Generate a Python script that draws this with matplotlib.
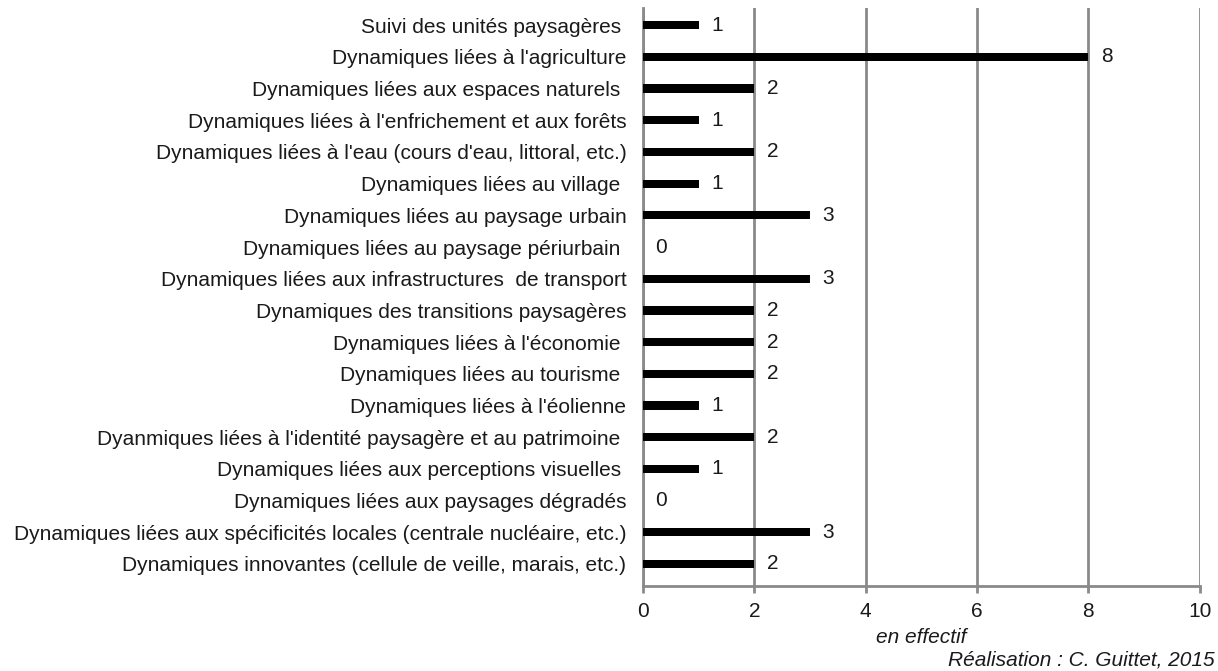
import matplotlib

matplotlib.use("Agg")
import matplotlib.pyplot as plt

plt.rcParams["font.family"] = ["Liberation Sans", "DejaVu Sans"]

categories = [
    "Suivi des unités paysagères ",
    "Dynamiques liées à l'agriculture",
    "Dynamiques liées aux espaces naturels ",
    "Dynamiques liées à l'enfrichement et aux forêts",
    "Dynamiques liées à l'eau (cours d'eau, littoral, etc.)",
    "Dynamiques liées au village ",
    "Dynamiques liées au paysage urbain",
    "Dynamiques liées au paysage périurbain ",
    "Dynamiques liées aux infrastructures  de transport",
    "Dynamiques des transitions paysagères",
    "Dynamiques liées à l'économie ",
    "Dynamiques liées au tourisme ",
    "Dynamiques liées à l'éolienne",
    "Dyanmiques liées à l'identité paysagère et au patrimoine ",
    "Dynamiques liées aux perceptions visuelles ",
    "Dynamiques liées aux paysages dégradés",
    "Dynamiques liées aux spécificités locales (centrale nucléaire, etc.)",
    "Dynamiques innovantes (cellule de veille, marais, etc.)",
]
counts = [1, 8, 2, 1, 2, 1, 3, 0, 3, 2, 2, 2, 1, 2, 1, 0, 3, 2]
x_ticks = [0, 2, 4, 6, 8, 10]

grid_grey = "#8a8a8a"
text_col = "#1a1a1a"
fs = 15

fig = plt.figure(figsize=(12.18, 6.71), dpi=100)
ax = fig.add_axes([0.528, 0.127, 0.457, 0.861])

pos = list(range(len(categories)))
ax.barh(pos, counts, height=0.26, color="black", zorder=3)
for y, v in zip(pos, counts):
    ax.annotate(str(v), (v, y), xytext=(9, 0), textcoords="offset points",
                va="center", ha="left", fontsize=fs, color=text_col)

ax.set_xlim(0, 10)
ax.set_ylim(len(categories) - 0.31, -0.54)
ax.set_xticks(x_ticks)
ax.set_xticklabels([str(t) for t in x_ticks], fontsize=fs, color=text_col)
ax.set_yticks(pos)
ax.set_yticklabels(categories, fontsize=fs, color=text_col)
ax.tick_params(axis="y", length=0, pad=12)
ax.tick_params(axis="x", length=5, width=2, color=grid_grey, pad=7)

ax.grid(axis="x", color=grid_grey, linewidth=2, zorder=0)
for side in ("top", "right"):
    ax.spines[side].set_visible(False)
for side in ("left", "bottom"):
    ax.spines[side].set_color(grid_grey)
    ax.spines[side].set_linewidth(2)

ax.set_xlabel("en effectif", fontsize=fs, style="italic", color=text_col, labelpad=5)
fig.text(0.997, 0.002, "Réalisation : C. Guittet, 2015", ha="right", va="bottom",
         fontsize=fs, style="italic", color=text_col)

fig.savefig("out.png", dpi=100)
